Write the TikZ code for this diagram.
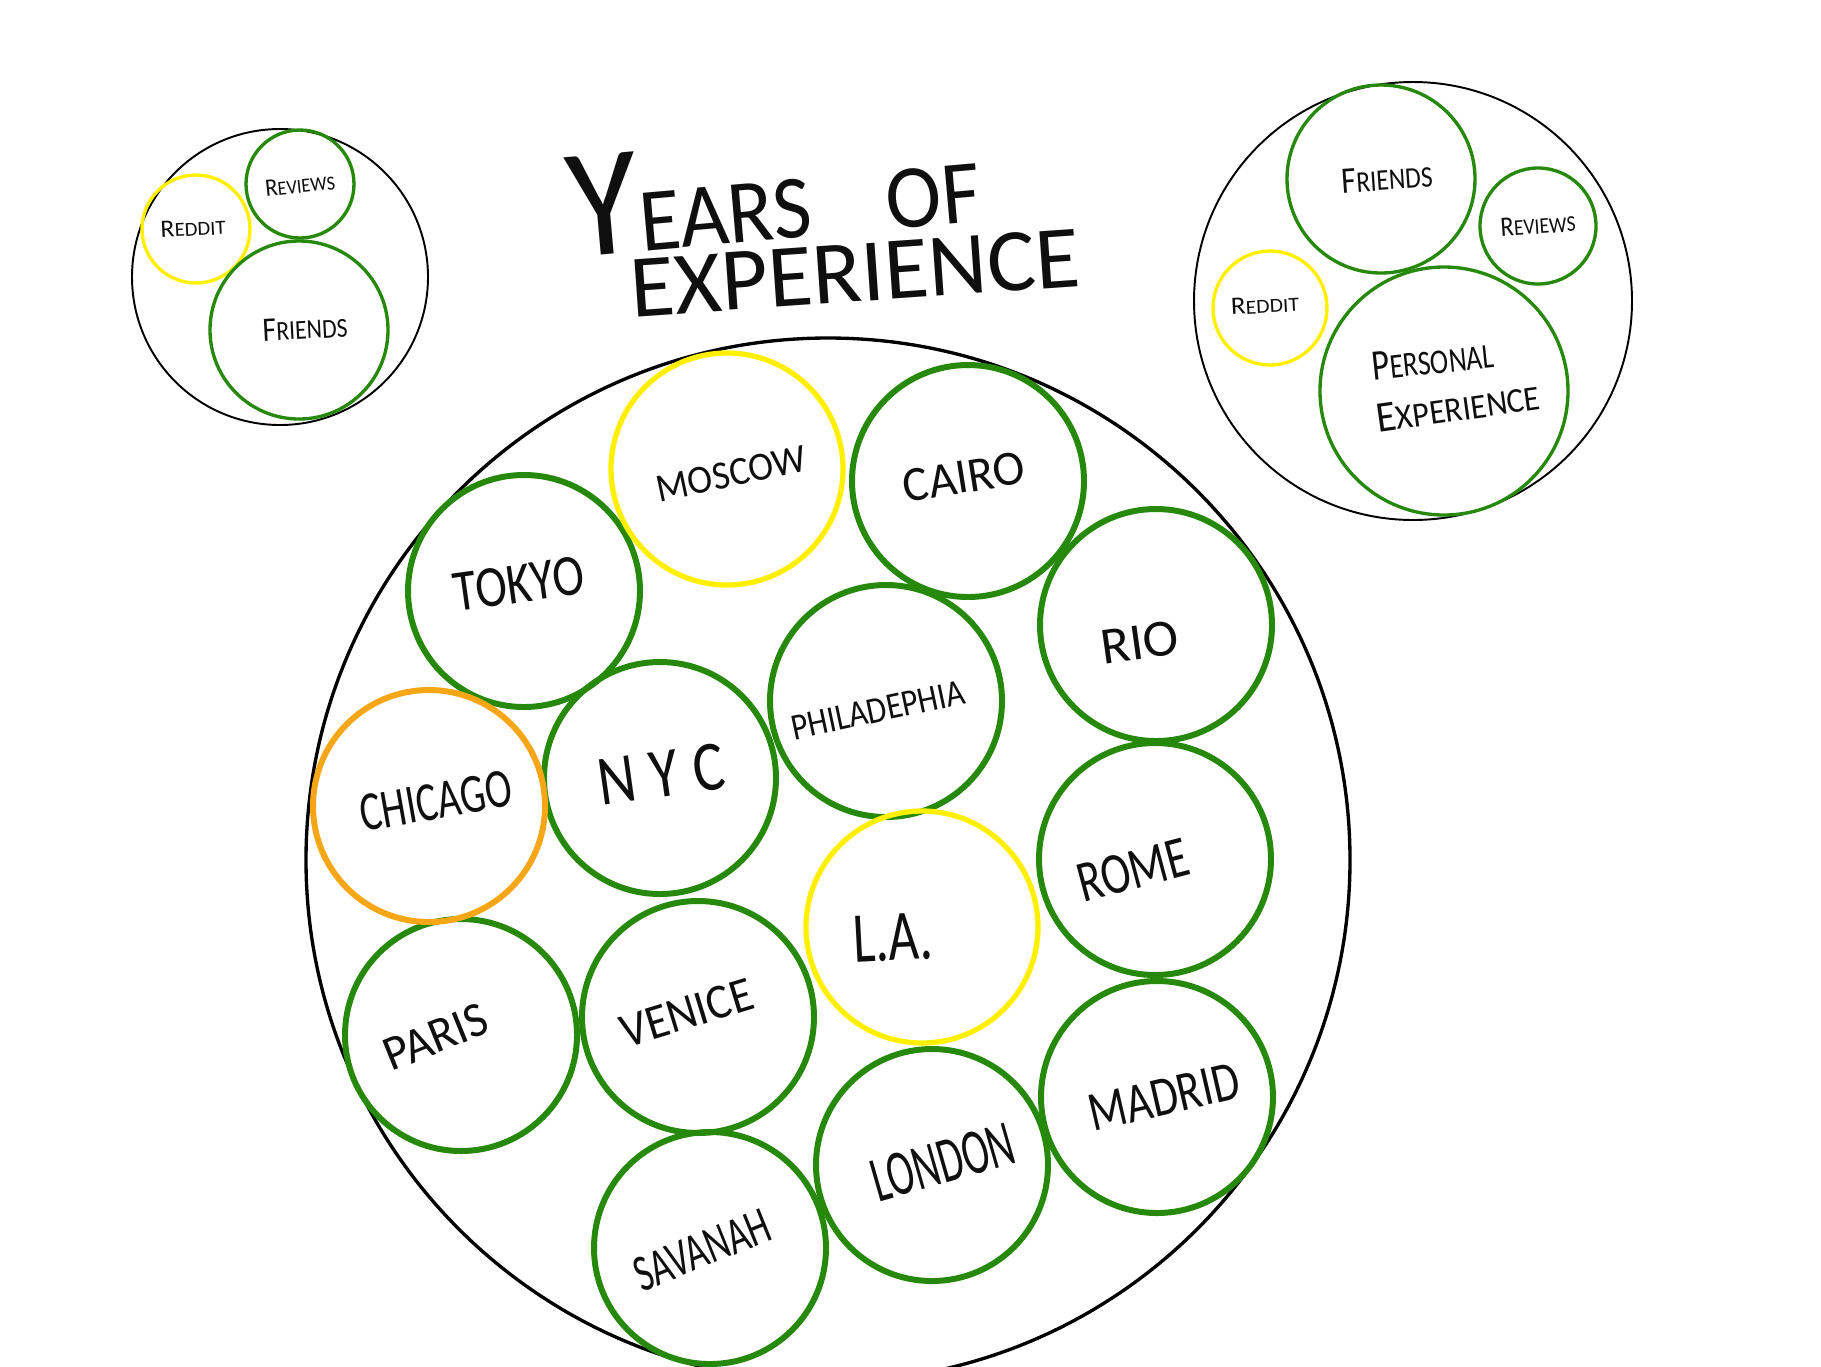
\documentclass[tikz,border=0pt]{standalone}
\usepackage{fontspec}
\setmainfont{Carlito}
\usepackage{graphicx}
\definecolor{cgreen}{RGB}{38,137,12}
\definecolor{cyellow}{RGB}{255,240,0}
\definecolor{corange}{RGB}{247,166,22}
\definecolor{cink}{RGB}{15,15,15}
\newlength\pxu
\setlength\pxu{0.01cm}
\newcommand{\hw}[3]{\resizebox{#1\pxu}{#2\pxu}{#3}}
\newcommand{\sm}[1]{{\footnotesize #1}}
\begin{document}
\begin{tikzpicture}[x=0.01cm,y=-0.01cm,
  city/.style={draw=cgreen,line width=1.7pt},
  ycity/.style={draw=cyellow,line width=1.5pt},
  ocity/.style={draw=corange,line width=1.7pt},
  lbl/.style={inner sep=0pt,text=cink},
  outerc/.style={draw=black,line width=0.55pt},
  smallg/.style={draw=cgreen,line width=0.95pt},
  smally/.style={draw=cyellow,line width=0.95pt}
]
\useasboundingbox (0,0) rectangle (1821,1366);
\clip (0,0) rectangle (1821,1366);
\fill[white] (0,0) rectangle (1821,1366);

% centres
\coordinate (lo) at (280,277);
\coordinate (lreddit) at (196,229);
\coordinate (lreviews) at (300,184);
\coordinate (lfriends) at (299,330);
\coordinate (ro) at (1413,301);
\coordinate (rfriends) at (1381,179);
\coordinate (rreviews) at (1538,226);
\coordinate (rreddit) at (1270,308);
\coordinate (rpersonal) at (1444,391);
\coordinate (main) at (828,860);
\coordinate (tokyo)   at (524,591);
\coordinate (moscow)  at (727,469);
\coordinate (cairo)   at (968,481);
\coordinate (rio)     at (1156,625);
\coordinate (phila)   at (886,701);
\coordinate (chicago) at (429,806);
\coordinate (nyc)     at (660,778);
\coordinate (la)      at (922,927);
\coordinate (rome)    at (1155,859);
\coordinate (paris)   at (461,1035);
\coordinate (venice)  at (698,1017);
\coordinate (savanah) at (710,1248);
\coordinate (london)  at (932,1165);
\coordinate (madrid)  at (1157,1097);

% title
\node[lbl,rotate=5] (t1) at (773,190) {\hw{412}{100}{{\LARGE Y}EARS\hspace{0.9em}OF}};
\node[lbl,rotate=4] (t2) at (855,273) {\hw{450}{58}{EXPERIENCE}};

% left small group
\draw[outerc] (lo) circle[radius=148];
\draw[smally] (lreddit) circle[radius=54];
\draw[smallg] (lreviews) circle[radius=54];
\draw[smallg] (lfriends) circle[radius=89];
\node[lbl,rotate=3] (lreddittx) at (193,228) {\hw{65}{16}{R\sm{EDDIT}}};
\node[lbl,rotate=6] (lreviewstx) at (300,185) {\hw{70}{16}{R\sm{EVIEWS}}};
\node[lbl,rotate=3] (lfriendstx) at (305,328) {\hw{85}{22}{F\sm{RIENDS}}};

% right small group
\draw[outerc] (ro) circle[radius=219];
\draw[smallg] (rfriends) circle[radius=94];
\draw[smallg] (rreviews) circle[radius=58];
\draw[smally] (rreddit) circle[radius=57];
\draw[smallg] (rpersonal) circle[radius=124];
\node[lbl,rotate=4] (rfriendstx) at (1387,178) {\hw{91}{24}{F\sm{RIENDS}}};
\node[lbl,rotate=4] (rreviewstx) at (1538,225) {\hw{75}{18}{R\sm{EVIEWS}}};
\node[lbl,rotate=3] (rreddittx) at (1265,305) {\hw{68}{16}{R\sm{EDDIT}}};
\node[lbl,rotate=6] (rpersonaltx) at (1433,360) {\hw{122}{28}{P\sm{ERSONAL}}};
\node[lbl,rotate=8] (rexptx) at (1458,407) {\hw{165}{28}{E\sm{XPERIENCE}}};

% main circle
\draw[outerc,line width=0.95pt] (main) circle[radius=522];

% cities
\foreach \c in {tokyo,cairo,rio,phila,nyc,rome,paris,venice,savanah,london,madrid}
  \draw[city] (\c) circle[radius=116];
\draw[ycity] (moscow) circle[radius=116];
\draw[ycity] (la) circle[radius=116];
\draw[ocity] (chicago) circle[radius=116];

\node[lbl,rotate=8]  (tokyotx)   at (519,584)  {\hw{131}{38}{TOKYO}};
\node[lbl,rotate=12] (moscowtx)  at (731,474)  {\hw{152}{26}{MOSCOW}};
\node[lbl,rotate=9]  (cairotx)   at (964,477)  {\hw{123}{32}{CAIRO}};
\node[lbl,rotate=8]  (riotx)     at (1140,642) {\hw{78}{34}{RIO}};
\node[lbl,rotate=12] (philatx)   at (878,710)  {\hw{176}{24}{PHILADEPHIA}};
\node[lbl,rotate=10] (chicagotx) at (436,801)  {\hw{153}{36}{CHICAGO}};
\node[lbl,rotate=8]  (nyctx)     at (661,774)  {\hw{127}{46}{N\hspace{0.25em}Y\hspace{0.25em}C}};
\node[lbl,rotate=3]  (latx)      at (893,938)  {\hw{80}{46}{L.A.}};
\node[lbl,rotate=15] (rometx)    at (1133,870) {\hw{113}{38}{ROME}};
\node[lbl,rotate=22] (paristx)   at (436,1037) {\hw{108}{32}{PARIS}};
\node[lbl,rotate=17] (venicetx)  at (687,1013) {\hw{136}{32}{VENICE}};
\node[lbl,rotate=22] (savanahtx) at (702,1250) {\hw{143}{34}{SAVANAH}};
\node[lbl,rotate=16] (londontx)  at (943,1162) {\hw{146}{42}{LONDON}};
\node[lbl,rotate=13] (madridtx)  at (1164,1097) {\hw{153}{36}{MADRID}};
\end{tikzpicture}
\end{document}
